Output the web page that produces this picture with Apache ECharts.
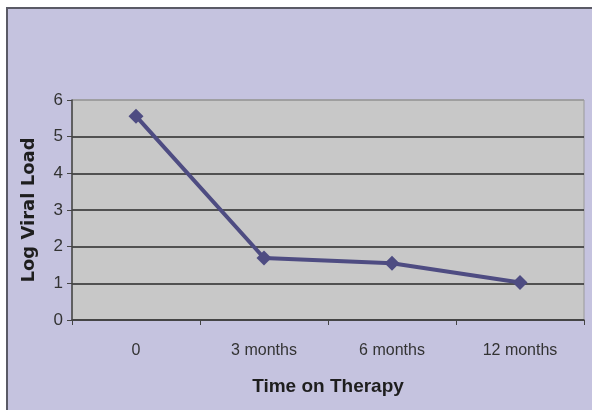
<!DOCTYPE html>
<html><head><meta charset="utf-8">
<script src="https://cdn.jsdelivr.net/npm/echarts@6/dist/echarts.min.js"></script>
<style>html,body{margin:0;padding:0;background:#fff}#c{width:592px;height:410px}</style>
</head><body><div id="c"></div>
<script>
const categories = ['0', '3 months', '6 months', '12 months'];
const viralLoad = [5.56, 1.69, 1.55, 1.02];
const yTicks = [0, 1, 2, 3, 4, 5, 6];

const chart = echarts.init(document.getElementById('c'), null, {renderer: 'canvas'});
chart.setOption({
  animation: false,
  backgroundColor: '#ffffff',
  graphic: [{
    type: 'rect', z: -10, silent: true,
    shape: {x: 7, y: 8, width: 600, height: 420},
    style: {fill: '#C5C3DF', stroke: '#5a5a66', lineWidth: 2}
  }],
  grid: {left: 72, right: 8, top: 100, bottom: 90, show: true,
         backgroundColor: '#C8C8C8', borderColor: '#9a9a9a', borderWidth: 1},
  xAxis: {
    type: 'category', data: categories, boundaryGap: true,
    name: 'Time on Therapy', nameLocation: 'middle', nameGap: 57,
    nameTextStyle: {fontFamily: 'Liberation Sans, Arial', fontWeight: 'bold', fontSize: 19, color: '#1e1e1e'},
    axisLine: {lineStyle: {color: '#444', width: 1.5}},
    axisTick: {show: true, length: 5, alignWithLabel: false, lineStyle: {color: '#444'}},
    axisLabel: {fontFamily: 'Liberation Sans, Arial', fontSize: 16, color: '#333', margin: 23}
  },
  yAxis: {
    type: 'value', min: 0, max: 6, interval: 1,
    name: 'Log Viral Load', nameLocation: 'middle', nameGap: 34, nameRotate: 90,
    nameTextStyle: {fontFamily: 'DejaVu Sans, Liberation Sans', fontWeight: 'bold', fontSize: 18, color: '#1e1e1e'},
    axisLine: {show: true, lineStyle: {color: '#444', width: 1.5}},
    axisTick: {show: true, length: 5, lineStyle: {color: '#444'}},
    axisLabel: {fontFamily: 'Liberation Sans, Arial', fontSize: 17, color: '#333', margin: 9,
      formatter: v => yTicks.includes(v) ? String(v) : ''},
    splitLine: {show: true, lineStyle: {color: ['#2a2a2a','#2a2a2a','#2a2a2a','#2a2a2a','#2a2a2a','#2a2a2a','#9a9a9a'], width: 1.5}}
  },
  series: [{
    type: 'line', data: viralLoad,
    symbol: 'diamond', symbolSize: 15,
    lineStyle: {color: '#4E4C82', width: 4},
    itemStyle: {color: '#4E4C82'}
  }]
});
</script></body></html>
